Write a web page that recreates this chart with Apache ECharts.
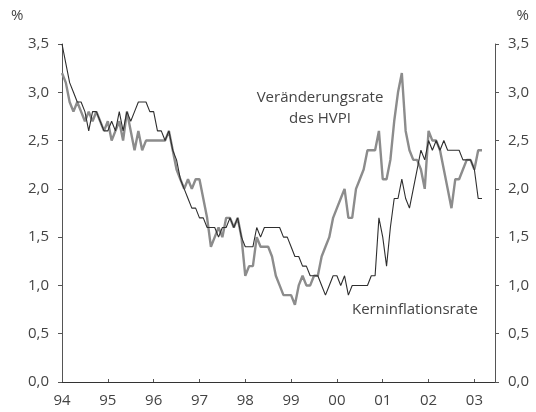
<!DOCTYPE html>
<html>
<head>
<meta charset="utf-8">
<script src="https://cdn.jsdelivr.net/npm/echarts@6/dist/echarts.min.js"></script>
<style>
  html, body { margin: 0; padding: 0; background: #fff; }
  #chart { width: 536px; height: 412px; }
</style>
</head>
<body>
<div id="chart"></div>
<script>
// monthly values from Jan 1994 to Mar 2003
const startYear = 1994;

// Veränderungsrate des HVPI (grey line)
const hvpi = [
    3.2, 3.1, 2.9, 2.8, 2.9, 2.8, 2.7, 2.8, 2.7, 2.8, 2.7, 2.6,
    2.7, 2.5, 2.6, 2.7, 2.5, 2.8, 2.6, 2.4, 2.6, 2.4, 2.5, 2.5,
    2.5, 2.5, 2.5, 2.5, 2.6, 2.4, 2.2, 2.1, 2.0, 2.1, 2.0, 2.1,
    2.1, 1.9, 1.7, 1.4, 1.5, 1.6, 1.5, 1.7, 1.7, 1.6, 1.7, 1.5,
    1.1, 1.2, 1.2, 1.5, 1.4, 1.4, 1.4, 1.3, 1.1, 1.0, 0.9, 0.9,
    0.9, 0.8, 1.0, 1.1, 1.0, 1.0, 1.1, 1.1, 1.3, 1.4, 1.5, 1.7,
    1.8, 1.9, 2.0, 1.7, 1.7, 2.0, 2.1, 2.2, 2.4, 2.4, 2.4, 2.6,
    2.1, 2.1, 2.3, 2.7, 3.0, 3.2, 2.6, 2.4, 2.3, 2.3, 2.2, 2.0,
    2.6, 2.5, 2.5, 2.4, 2.2, 2.0, 1.8, 2.1, 2.1, 2.2, 2.3, 2.3,
    2.2, 2.4, 2.4
];

// Kerninflationsrate (black line)
const kern = [
    3.5, 3.3, 3.1, 3.0, 2.9, 2.9, 2.8, 2.6, 2.8, 2.8, 2.7, 2.6,
    2.6, 2.7, 2.6, 2.8, 2.6, 2.8, 2.7, 2.8, 2.9, 2.9, 2.9, 2.8,
    2.8, 2.6, 2.6, 2.5, 2.6, 2.4, 2.3, 2.1, 2.0, 1.9, 1.8, 1.8,
    1.7, 1.7, 1.6, 1.6, 1.6, 1.5, 1.6, 1.6, 1.7, 1.6, 1.7, 1.5,
    1.4, 1.4, 1.4, 1.6, 1.5, 1.6, 1.6, 1.6, 1.6, 1.6, 1.5, 1.5,
    1.4, 1.3, 1.3, 1.2, 1.2, 1.1, 1.1, 1.1, 1.0, 0.9, 1.0, 1.1,
    1.1, 1.0, 1.1, 0.9, 1.0, 1.0, 1.0, 1.0, 1.0, 1.1, 1.1, 1.7,
    1.5, 1.2, 1.6, 1.9, 1.9, 2.1, 1.9, 1.8, 2.0, 2.2, 2.4, 2.3,
    2.5, 2.4, 2.5, 2.4, 2.5, 2.4, 2.4, 2.4, 2.4, 2.3, 2.3, 2.3,
    2.2, 1.9, 1.9
];

const yearTicks = [1994, 1995, 1996, 1997, 1998, 1999, 2000, 2001, 2002, 2003];

function toPoints(values) {
    return values.map((v, i) => [startYear + i / 12, v]);
}

const font = '"Open Sans", "DejaVu Sans", sans-serif';
const textColor = '#444';

const yAxisBase = {
    type: 'value',
    min: 0,
    max: 3.5,
    interval: 0.5,
    splitLine: { show: false },
    axisLine: { show: true, lineStyle: { color: '#555', width: 1 } },
    axisTick: { show: true, length: 4, lineStyle: { color: '#555' } },
    axisLabel: {
        color: textColor, fontFamily: font, fontSize: 15, margin: 13,
        formatter: v => v.toFixed(1).replace('.', ',')
    }
};

const chart = echarts.init(document.getElementById('chart'));
chart.setOption({
    animation: false,
    backgroundColor: '#fff',
    grid: { left: 62, right: 41, top: 44, bottom: 30 },
    xAxis: [{
        type: 'value',
        min: 1994,
        max: 2003.45,
        interval: 1,
        splitLine: { show: false },
        axisLine: { show: true, lineStyle: { color: '#555', width: 1 } },
        axisTick: { show: true, inside: true, length: 3, lineStyle: { color: '#555' } },
        axisLabel: {
            color: textColor, fontFamily: font, fontSize: 15, margin: 11,
            showMaxLabel: false,
            formatter: v => yearTicks.includes(v) ? String(v).slice(2) : ''
        }
    }, {
        type: 'value',
        position: 'top',
        min: 1994,
        max: 2003.45,
        axisLine: { show: true, lineStyle: { color: '#333', width: 1.2 } },
        axisTick: { show: false },
        axisLabel: { show: false },
        splitLine: { show: false }
    }],
    yAxis: [
        Object.assign({}, yAxisBase, { position: 'left' }),
        Object.assign({}, yAxisBase, { position: 'right' })
    ],
    series: [{
        name: 'Veränderungsrate des HVPI',
        type: 'line',
        data: toPoints(hvpi),
        showSymbol: false,
        lineStyle: { color: '#8c8c8c', width: 2.4 },
        z: 2
    }, {
        name: 'Kerninflationsrate',
        type: 'line',
        data: toPoints(kern),
        showSymbol: false,
        lineStyle: { color: '#2e2e2e', width: 1.1 },
        z: 3
    }],
    graphic: [
        { type: 'text', left: 11, top: 8, style: { text: '%', fill: textColor, font: '15px ' + font } },
        { type: 'text', right: 7, top: 8, style: { text: '%', fill: textColor, font: '15px ' + font } },
        {
            type: 'text', x: 320, y: 87,
            style: {
                text: 'Veränderungsrate\ndes HVPI', fill: textColor, font: '15px ' + font,
                align: 'center', lineHeight: 21
            }
        },
        {
            type: 'text', x: 352, y: 310,
            style: { text: 'Kerninflationsrate', fill: textColor, font: '15px ' + font, verticalAlign: 'middle' }
        }
    ]
});
</script>
</body>
</html>
